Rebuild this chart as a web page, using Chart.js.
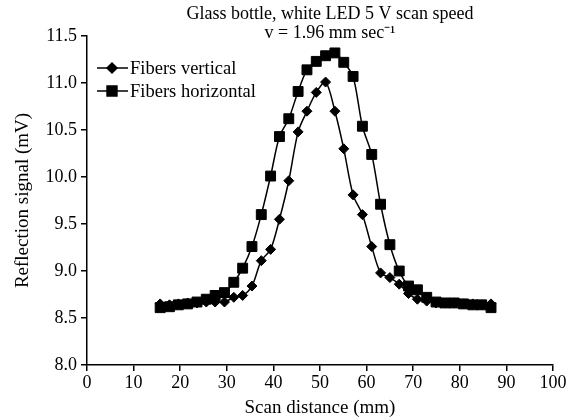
<!DOCTYPE html>
<html>
<head>
<meta charset="utf-8">
<script src="https://cdn.jsdelivr.net/npm/chart.js@4.4.1/dist/chart.umd.min.js"></script>
<style>
    html, body { margin: 0; padding: 0; background: #ffffff; }
</style>
</head>
<body>
<canvas id="scanChart" width="581" height="420"></canvas>
<script>
// ===============================
// Data
// ===============================

let scanDistance = [
    15.7, 17.7, 19.6, 21.6, 23.6, 25.6, 27.5, 29.5, 31.5, 33.4,
    35.4, 37.4, 39.4, 41.3, 43.3, 45.3, 47.2, 49.2, 51.2, 53.2,
    55.1, 57.1, 59.1, 61.1, 63.0, 65.0, 67.0, 69.0, 70.9, 72.9,
    74.9, 76.8, 78.8, 80.8, 82.8, 84.7, 86.7
];

let fibersVertical = [
    8.65, 8.64, 8.65, 8.66, 8.66, 8.67, 8.67, 8.67, 8.72, 8.74,
    8.84, 9.11, 9.23, 9.55, 9.96, 10.48, 10.70, 10.90, 11.01, 10.70,
    10.30, 9.81, 9.60, 9.26, 8.98, 8.93, 8.86, 8.76, 8.70, 8.68,
    8.66, 8.66, 8.66, 8.65, 8.65, 8.64, 8.65
];

let fibersHorizontal = [
    8.61, 8.62, 8.64, 8.65, 8.67, 8.70, 8.74, 8.77, 8.88, 9.03,
    9.26, 9.60, 10.01, 10.43, 10.62, 10.91, 11.14, 11.23, 11.29, 11.32,
    11.22, 11.07, 10.54, 10.24, 9.71, 9.28, 9.00, 8.84, 8.80, 8.72,
    8.67, 8.66, 8.66, 8.65, 8.64, 8.64, 8.61
];

let seriesNames = ["Fibers vertical", "Fibers horizontal"];

let titleLines = ["Glass bottle, white LED 5 V scan speed", "v = 1.96 mm sec\u207B\u00B9"];

let xTitle = "Scan distance (mm)";
let yTitle = "Reflection signal (mV)";

// ===============================
// Chart
// ===============================

let FONT = "'Liberation Serif', 'Times New Roman', serif";

function toPoints(values) {
    return values.map(function (v, i) {
        return { x: scanDistance[i], y: v };
    });
}

// title drawn by hand so it can sit over the top of the axis
let titlePlugin = {
    id: "titleLines",
    afterDraw(chart) {
        let ctx = chart.ctx;
        ctx.save();
        ctx.fillStyle = "#000";
        ctx.font = "18px " + FONT;
        ctx.textAlign = "center";
        ctx.textBaseline = "middle";
        ctx.fillText(titleLines[0], 330, 14);
        ctx.fillText(titleLines[1], 330, 33);
        ctx.restore();
    }
};

// legend in the upper left corner of the plot
let legendPlugin = {
    id: "cornerLegend",
    afterDraw(chart) {
        let ctx = chart.ctx;
        ctx.save();
        chart.data.datasets.forEach(function (ds, i) {
            let y = 68 + i * 23;
            ctx.strokeStyle = "#000";
            ctx.lineWidth = 1.5;
            ctx.beginPath();
            ctx.moveTo(97, y);
            ctx.lineTo(128, y);
            ctx.stroke();
            ctx.fillStyle = "#000";
            Chart.helpers.drawPoint(ctx, {
                pointStyle: ds.pointStyle,
                radius: ds.pointRadius,
                rotation: 0,
                borderWidth: 1
            }, 112, y);
            ctx.fill();
            ctx.font = "18.5px " + FONT;
            ctx.textAlign = "left";
            ctx.textBaseline = "middle";
            ctx.fillText(ds.label, 130, y + 1);
        });
        ctx.restore();
    }
};

let ctx = document.getElementById("scanChart").getContext("2d");

let scanChart = new Chart(ctx, {

    type: "line",

    data: {
        datasets: [{
            label: seriesNames[0],
            data: toPoints(fibersVertical),
            borderColor: "#000",
            backgroundColor: "#000",
            borderWidth: 1.5,
            pointStyle: "rectRot",
            pointRadius: 5,
            pointBorderWidth: 1,
            tension: 0.3
        }, {
            label: seriesNames[1],
            data: toPoints(fibersHorizontal),
            borderColor: "#000",
            backgroundColor: "#000",
            borderWidth: 1.5,
            pointStyle: "rect",
            pointRadius: 7,
            pointBorderWidth: 1,
            tension: 0.3
        }]
    },

    options: {
        responsive: false,
        animation: false,
        layout: {
            padding: { left: 12, right: 28, top: 36, bottom: 1 }
        },
        plugins: {
            legend: { display: false },
            title: { display: false },
            tooltip: { enabled: false }
        },
        scales: {
            x: {
                type: "linear",
                min: 0,
                max: 100,
                border: { display: true, color: "#000", width: 1.5 },
                grid: { drawOnChartArea: false, drawTicks: true, tickLength: 6, color: "#000", lineWidth: 1.5 },
                ticks: { stepSize: 10, color: "#000", padding: 1, maxRotation: 0, font: { family: FONT, size: 18 } },
                title: { display: true, text: xTitle, color: "#000", padding: { top: 0, bottom: 0 }, font: { family: FONT, size: 19 } },
                afterFit: function (scale) { scale.height = 54; }
            },
            y: {
                min: 8,
                max: 11.5,
                border: { display: true, color: "#000", width: 1.5 },
                grid: { drawOnChartArea: false, drawTicks: true, tickLength: 6, color: "#000", lineWidth: 1.5 },
                ticks: {
                    stepSize: 0.5,
                    color: "#000",
                    padding: 4,
                    font: { family: FONT, size: 18 },
                    callback: function (v) { return v.toFixed(1); }
                },
                title: { display: true, text: yTitle, color: "#000", padding: { top: 0, bottom: 6 }, font: { family: FONT, size: 19 } },
                afterFit: function (scale) { scale.width = 75; }
            }
        }
    },

    plugins: [titlePlugin, legendPlugin]

});
</script>
</body>
</html>
